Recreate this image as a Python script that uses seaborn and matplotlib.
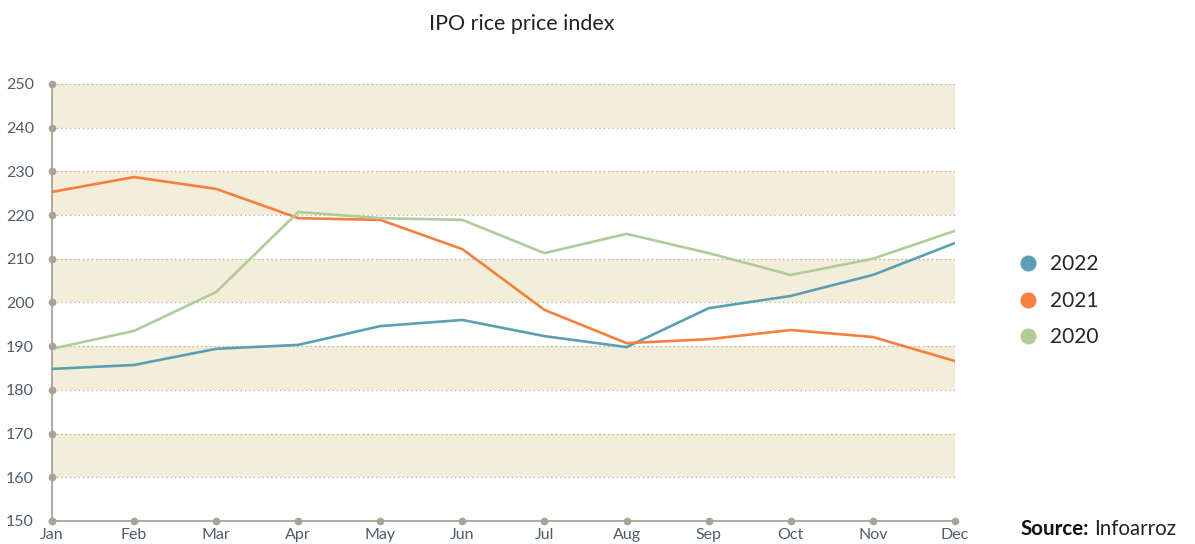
import matplotlib
matplotlib.use("Agg")
import matplotlib.pyplot as plt
from matplotlib.lines import Line2D
import seaborn as sns
import pandas as pd

months = ["Jan", "Feb", "Mar", "Apr", "May", "Jun", "Jul", "Aug", "Sep", "Oct", "Nov", "Dec"]
y2022 = [184.8, 185.7, 189.4, 190.3, 194.6, 196.0, 192.3, 189.8, 198.7, 201.5, 206.3, 213.6]
y2021 = [225.3, 228.7, 226.0, 219.3, 218.9, 212.2, 198.3, 190.7, 191.6, 193.7, 192.1, 186.6]
y2020 = [189.4, 193.5, 202.4, 220.7, 219.3, 218.9, 211.3, 215.7, 211.3, 206.3, 210.0, 216.4]
series_names = ["2022", "2021", "2020"]
colors = ["#5b9fb5", "#f5803e", "#b0cc99"]
yticks = [150, 160, 170, 180, 190, 200, 210, 220, 230, 240, 250]
bands = [(160, 170), (180, 190), (200, 210), (220, 230), (240, 250)]

sns.set_theme(style="white")
plt.rcParams['font.family'] = ['Lato', 'DejaVu Sans']

rows = []
for name, vals in zip(series_names, [y2022, y2021, y2020]):
    for i, v in enumerate(vals):
        rows.append({"x": i, "month": months[i], "value": v, "year": name})
df = pd.DataFrame(rows)

fig = plt.figure(figsize=(11.95, 5.44), dpi=100)
ax = fig.add_axes([0.0435, 0.0423, 0.7556, 0.8033])

for lo, hi in bands:
    ax.axhspan(lo, hi, color="#f3eed9", zorder=0, lw=0)
for t in yticks[1:]:
    ax.axhline(t, color="#b5ad98", lw=0.9, ls=(0, (1, 2.5)), zorder=1)

sns.lineplot(data=df, x="x", y="value", hue="year", hue_order=series_names,
             palette=dict(zip(series_names, colors)), lw=1.9, ax=ax, legend=False,
             zorder=3)

ax.set_xlim(0, len(months) - 1)
ax.set_ylim(150, 250)
ax.set_xticks(range(len(months)))
ax.set_xticklabels(months)
ax.set_yticks(yticks)
ax.set_xlabel("")
ax.set_ylabel("")
for s in ["top", "right"]:
    ax.spines[s].set_visible(False)
for s in ["left", "bottom"]:
    ax.spines[s].set_color("#a9a397")
    ax.spines[s].set_linewidth(1.3)
ax.tick_params(axis="both", length=0, labelsize=11.5, labelcolor="#4d5d6b")
ax.tick_params(axis="y", pad=13)
ax.tick_params(axis="x", pad=5)

# tick dots along spines
ax.plot([0] * len(yticks), yticks, "o", color="#a9a397", ms=4.5, clip_on=False, zorder=5)
ax.plot(range(len(months)), [150] * len(months), "o", color="#a9a397", ms=4.5, clip_on=False, zorder=5)

ax.set_title("IPO rice price index", fontsize=15.5, color="#222222", pad=39, x=0.52)

handles = [Line2D([0], [0], marker="o", ls="", color=c, ms=10.5) for c in colors]
leg = fig.legend(handles, series_names, loc="center left", bbox_to_anchor=(0.836, 0.447),
                 frameon=False, fontsize=15, labelspacing=0.8, handletextpad=0.55,
                 handlelength=1.0)

t1 = fig.text(0.854, 0.016, "Source:", fontsize=14.8, fontweight="bold", color="#111111")
fig.canvas.draw()
bb = t1.get_window_extent(renderer=fig.canvas.get_renderer())
x2 = (bb.x1 + 5) / fig.bbox.width
fig.text(x2, 0.016, "Infoarroz", fontsize=14.8, color="#222222")

fig.savefig("out.png", dpi=100)
